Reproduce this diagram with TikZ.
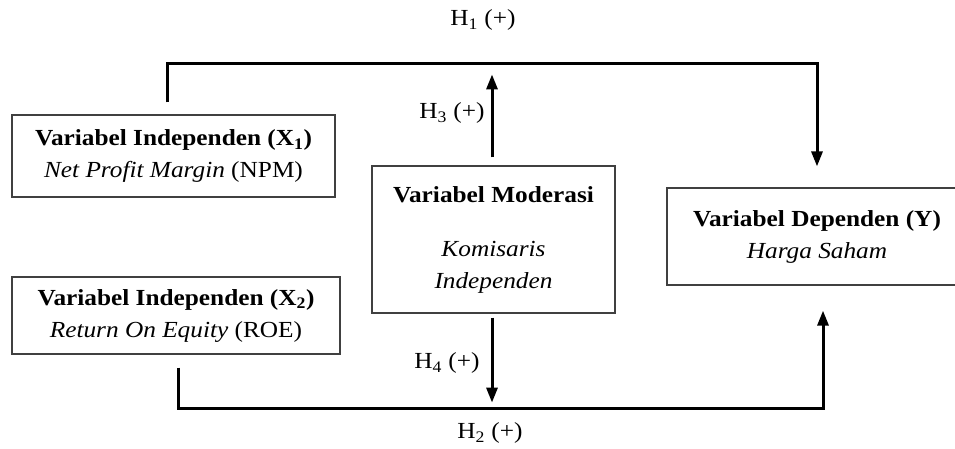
\documentclass[tikz,border=0pt]{standalone}
\usepackage{fontspec}
\setmainfont[FakeStretch=1.1]{Liberation Serif}
\usetikzlibrary{arrows.meta}

\tikzset{
  varbox/.style={draw=black!75, line width=1.2pt, align=center, inner sep=0pt,
    font=\fontsize{23}{32}\selectfont},
  link/.style={line width=3pt, line cap=butt},
  linkarrow/.style={link, -{Triangle[width=11pt,length=15pt]}},
  hlabel/.style={font=\fontsize{23}{28}\selectfont, inner sep=0pt}
}

\begin{document}
\begin{tikzpicture}[x=1pt,y=-1pt]
\useasboundingbox (0,0) rectangle (955,448);

% variable boxes
\node[varbox, minimum width=323pt, minimum height=82pt] (ind1) at (173.5,156)
  {\textbf{Variabel Independen (X\textsubscript{1})}\\ \textit{Net Profit Margin} (NPM)};
\node[varbox, minimum width=328pt, minimum height=77pt] (ind2) at (176,315.5)
  {\textbf{Variabel Independen (X\textsubscript{2})}\\ \textit{Return On Equity} (ROE)};
\node[varbox, minimum width=243pt, minimum height=147pt] (mod) at (493.5,239.5)
  {\textbf{Variabel Moderasi}\\[22pt] \textit{Komisaris}\\ \textit{Independen}};
\node[varbox, minimum width=300pt, minimum height=97pt] (dep) at (817,236.5)
  {\textbf{Variabel Dependen (Y)}\\ \textit{Harga Saham}};

% line heights
\coordinate (topline) at (0,63);
\coordinate (botline) at (0,408);

% connectors
\draw[linkarrow] ([xshift=-6pt,yshift=12pt]ind1.north) |- (dep.north |- topline)
  -- ([yshift=21pt]dep.north);
\draw[linkarrow] ([xshift=2pt,yshift=-13pt]ind2.south) |- ([xshift=6pt]dep.south |- botline)
  -- ([xshift=6pt,yshift=-25pt]dep.south);
\draw[linkarrow] ([xshift=-1.5pt,yshift=8pt]mod.north) -- ([xshift=-1.5pt,yshift=91pt]mod.north);
\draw[linkarrow] ([xshift=-1.5pt,yshift=-4pt]mod.south) -- ([xshift=-1.5pt,yshift=-89pt]mod.south);

% labels
\node[hlabel] (h1) at (483,20) {H\textsubscript{1} (+)};
\node[hlabel] (h2) at (490,433) {H\textsubscript{2} (+)};
\node[hlabel] (h3) at (452,113) {H\textsubscript{3} (+)};
\node[hlabel] (h4) at (447,363) {H\textsubscript{4} (+)};

\end{tikzpicture}
\end{document}
